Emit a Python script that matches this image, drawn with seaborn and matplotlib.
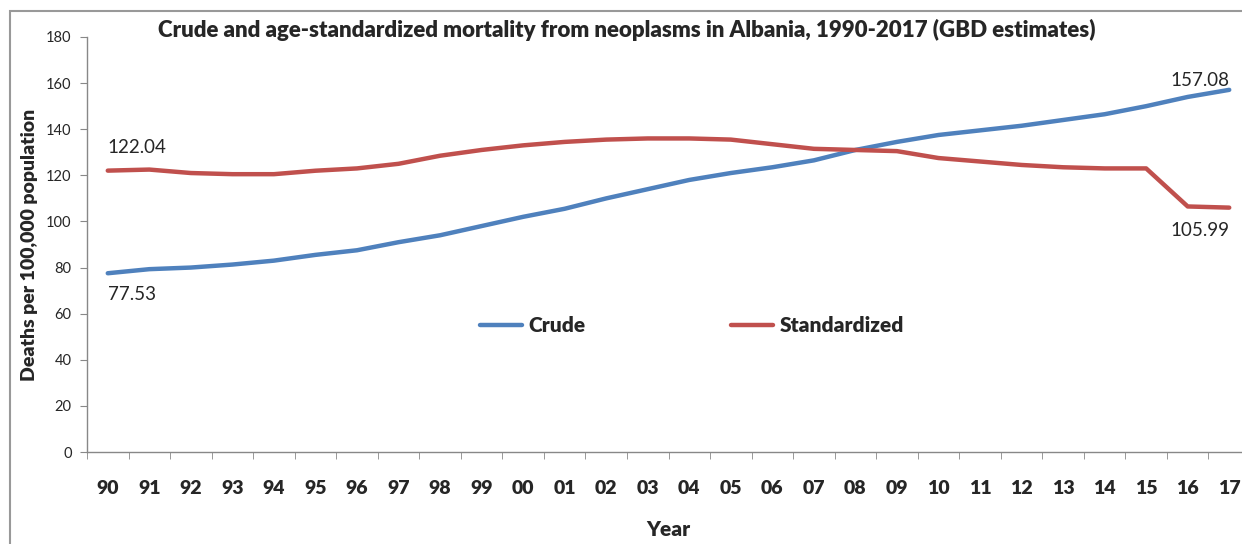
import numpy as np
import pandas as pd
import matplotlib
matplotlib.use("Agg")
import matplotlib.pyplot as plt
import seaborn as sns
from matplotlib.patches import Rectangle

# data
years = ['90', '91', '92', '93', '94', '95', '96', '97', '98', '99',
         '00', '01', '02', '03', '04', '05', '06', '07', '08', '09',
         '10', '11', '12', '13', '14', '15', '16', '17']
crude = [77.53, 79.3, 80.0, 81.3, 83.0, 85.5, 87.5, 91.0, 94.0, 98.0,
         102.0, 105.5, 110.0, 114.0, 118.0, 121.0, 123.5, 126.5, 131.0, 134.5,
         137.5, 139.5, 141.5, 144.0, 146.5, 150.0, 154.0, 157.08]
standardized = [122.04, 122.5, 121.0, 120.5, 120.5, 122.0, 123.0, 125.0, 128.5, 131.0,
                133.0, 134.5, 135.5, 136.0, 136.0, 135.5, 133.5, 131.5, 131.0, 130.5,
                127.5, 126.0, 124.5, 123.5, 123.0, 123.0, 106.5, 105.99]

sns.set_style("white")
plt.rcParams['font.family'] = ['Lato', 'DejaVu Sans']
BOLD = 'heavy'

df = pd.DataFrame({'pos': np.arange(len(years)), 'Crude': crude,
                   'Standardized': standardized})
long_df = df.melt(id_vars='pos', var_name='series', value_name='value')

fig = plt.figure(figsize=(12.42, 5.44), dpi=100)
fig.patches.append(Rectangle((10 / 1242, -0.1), 1.1, 1 - 11 / 544 + 0.1,
                             transform=fig.transFigure, fill=False,
                             edgecolor='#999999', linewidth=1.5))
ax = fig.add_axes([87 / 1242, 1 - 452 / 544, 1163 / 1242, 415 / 544])

sns.lineplot(data=long_df, x='pos', y='value', hue='series',
             palette={'Crude': '#4F81BD', 'Standardized': '#C0504D'},
             linewidth=3.2, ax=ax)

ax.set_xlim(-0.5, len(years) - 0.5)
ax.set_ylim(0, 180)
ax.set_yticks(np.arange(0, 181, 20))
ax.set_xticks(np.arange(len(years)))
ax.set_xticklabels(years, fontsize=14, fontweight=BOLD)
ax.set_xticks(np.arange(-0.5, len(years), 1), minor=True)
ax.tick_params(axis='x', which='major', length=0, pad=20)
ax.tick_params(axis='x', which='minor', length=5, color='#888888',
               direction='out', bottom=True)
ax.tick_params(axis='y', length=5, color='#888888', direction='out',
               left=True, labelsize=10.5, pad=6)
for side in ['top', 'right']:
    ax.spines[side].set_visible(False)
for side in ['left', 'bottom']:
    ax.spines[side].set_color('#888888')
    ax.spines[side].set_linewidth(1)

ax.set_xlabel('Year', fontsize=15, fontweight=BOLD, labelpad=17)
ax.set_ylabel('Deaths per 100,000 population', fontsize=14,
              fontweight=BOLD, labelpad=6)

fig.text(627 / 1242, 1 - 30 / 544,
         'Crude and age-standardized mortality from neoplasms in Albania, 1990-2017 (GBD estimates)',
         ha='center', va='center', fontsize=16, fontweight=BOLD)

# end labels
ax.text(0, crude[0] - 9, f'{crude[0]:.2f}', ha='left', va='center',
        fontsize=13.5)
ax.text(0, standardized[0] + 10, f'{standardized[0]:.2f}', ha='left',
        va='center', fontsize=13.5)
ax.text(len(years) - 1, crude[-1] + 4, f'{crude[-1]:.2f}', ha='right',
        va='center', fontsize=13.5)
ax.text(len(years) - 1, standardized[-1] - 10, f'{standardized[-1]:.2f}',
        ha='right', va='center', fontsize=13.5)

leg = ax.legend(loc='center', bbox_to_anchor=((692 - 87) / 1163, (452 - 326) / 415),
                ncol=2, frameon=False, columnspacing=7, handlelength=2.0,
                handletextpad=0.3, prop={'weight': BOLD, 'size': 15})
for line in leg.get_lines():
    line.set_linewidth(3.2)

fig.savefig('out.png', dpi=100)
